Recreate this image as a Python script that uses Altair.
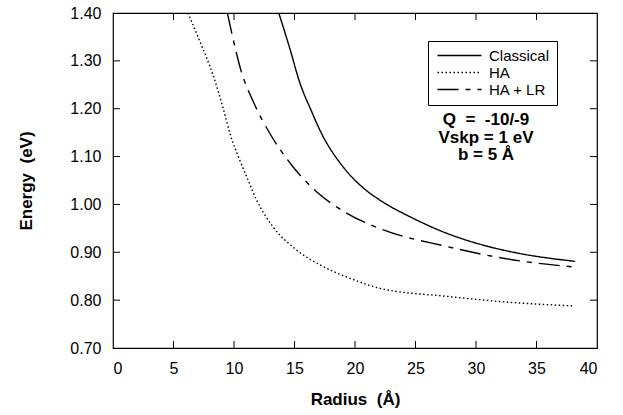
import altair as alt
import pandas as pd

# ---- data ----
classical_x = [13.7, 14.6, 15.43, 16.4, 17.3, 19.0, 20.9, 22.0, 24.8, 27.55, 30.3, 33.1, 38.2]
classical_y = [1.40, 1.327, 1.255, 1.195, 1.145, 1.079, 1.030, 1.010, 0.971, 0.940, 0.917, 0.900, 0.881]

ha_x = [6.2, 7.17, 8.26, 9.09, 9.73, 10.47, 11.16, 11.85, 13.2, 15.16, 17.08, 19.56, 22.0, 27.55, 33.06, 38.0]
ha_y = [1.40, 1.341, 1.271, 1.202, 1.143, 1.093, 1.051, 1.010, 0.954, 0.905, 0.874, 0.846, 0.825, 0.808, 0.795, 0.788]

halr_x = [9.45, 9.78, 10.6, 11.57, 13.09, 14.74, 16.8, 19.3, 22.0, 27.6, 33.1, 38.2]
halr_y = [1.40, 1.362, 1.278, 1.216, 1.143, 1.083, 1.027, 0.982, 0.950, 0.912, 0.884, 0.869]

series_names = ["Classical", "HA", "HA + LR"]
x_tick_values = [0, 5, 10, 15, 20, 25, 30, 35, 40]
y_tick_values = [0.70, 0.80, 0.90, 1.00, 1.10, 1.20, 1.30, 1.40]
annotation_text = "Q\u00a0 =\u00a0 -10/-9\nVskp = 1 eV\nb = 5 Å"

rows = []
for name, xs, ys in zip(series_names, [classical_x, ha_x, halr_x], [classical_y, ha_y, halr_y]):
    for i, (a, b) in enumerate(zip(xs, ys)):
        rows.append({"series": name, "r": a, "e": b, "order": i})
df = pd.DataFrame(rows)

FONT = "Liberation Sans"
W, H = 484, 335
TL = 7

xscale = alt.Scale(domain=[0, 40], nice=False, zero=False)
yscale = alt.Scale(domain=[0.70, 1.40], nice=False, zero=False)

lines = alt.Chart(df).mark_line(color="black", strokeWidth=1.4, interpolate="monotone", clip=True).encode(
    x=alt.X("r:Q", scale=xscale,
            axis=alt.Axis(title="Radius\u00a0\u00a0(Å)", values=x_tick_values, tickSize=0, domain=False,
                          grid=False, labelPadding=12, titlePadding=15)),
    y=alt.Y("e:Q", scale=yscale,
            axis=alt.Axis(title="Energy\u00a0\u00a0(eV)", values=y_tick_values, format=".2f", tickSize=0,
                          domain=False, grid=False, labelPadding=12, titlePadding=34)),
    strokeDash=alt.StrokeDash(
        "series:N",
        scale=alt.Scale(domain=series_names, range=[[1, 0], [1.5, 2.5], [21, 7, 5, 7]]),
        legend=alt.Legend(title=None, orient="none", legendX=315, legendY=28,
                          strokeColor="black", fillColor="white", padding=7,
                          symbolType="M-4,0H4", symbolSize=121, symbolStrokeWidth=1.4,
                          symbolOffset=17, symbolStrokeColor="black", labelFontSize=15,
                          labelFont=FONT, labelColor="black", labelOffset=22, rowPadding=1),
    ),
    order="order:Q",
)

xt = pd.DataFrame({"v": x_tick_values[1:-1]})
yt = pd.DataFrame({"v": y_tick_values[1:-1]})

tick_bottom = alt.Chart(xt).mark_rule(color="black", strokeWidth=1).encode(
    x=alt.X("v:Q", scale=xscale), y=alt.value(H), y2=alt.value(H - TL))
tick_top = alt.Chart(xt).mark_rule(color="black", strokeWidth=1).encode(
    x=alt.X("v:Q", scale=xscale), y=alt.value(0), y2=alt.value(TL))
tick_left = alt.Chart(yt).mark_rule(color="black", strokeWidth=1).encode(
    y=alt.Y("v:Q", scale=yscale), x=alt.value(0), x2=alt.value(TL))
tick_right = alt.Chart(yt).mark_rule(color="black", strokeWidth=1).encode(
    y=alt.Y("v:Q", scale=yscale), x=alt.value(W), x2=alt.value(W - TL))

annot = alt.Chart(pd.DataFrame({"t": [annotation_text]})).mark_text(
    font=FONT, fontSize=17, fontWeight="bold", color="black", align="center",
    baseline="top", lineBreak="\n", lineHeight=17.5
).encode(x=alt.value(373), y=alt.value(99), text="t:N")

chart = alt.layer(lines, tick_bottom, tick_top, tick_left, tick_right, annot).properties(
    width=W, height=H,
    autosize=alt.AutoSizeParams(type="none"),
    padding={"left": 113, "top": 13, "right": 26, "bottom": 67},
    background="white",
).configure_view(stroke="black", strokeWidth=1.2).configure_axis(
    labelFont=FONT, labelFontSize=16, labelColor="black",
    titleFont=FONT, titleFontSize=17, titleFontWeight="bold", titleColor="black",
)

chart.save("out.html", embed_options={"renderer": "svg", "actions": False})
